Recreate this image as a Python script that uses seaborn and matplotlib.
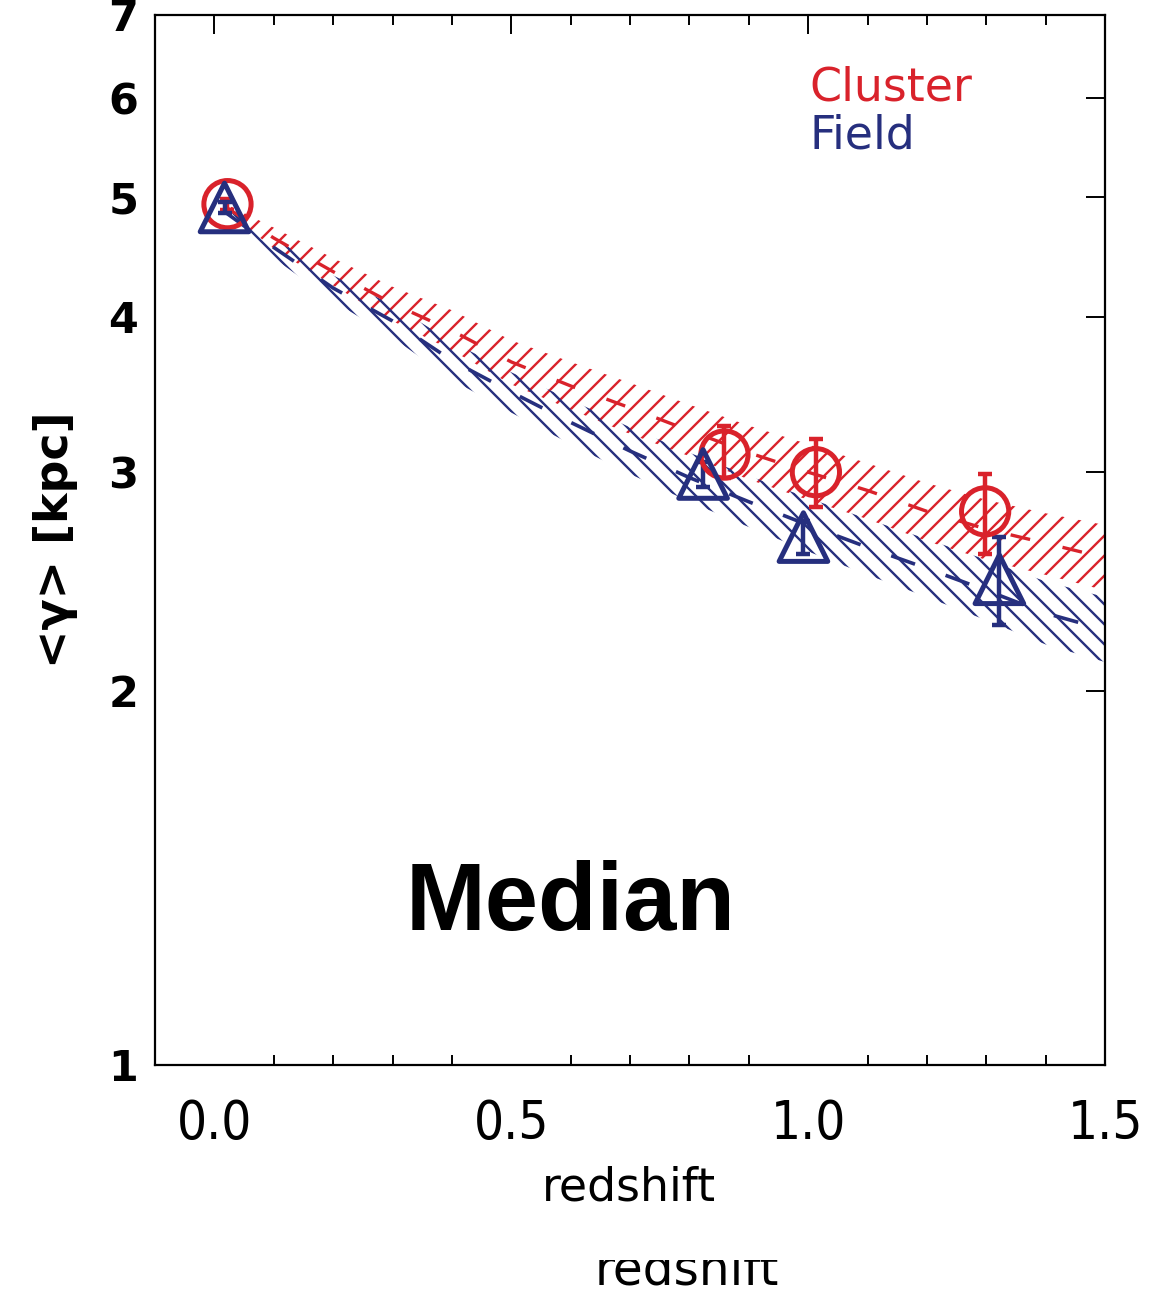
import numpy as np
import pandas as pd
import matplotlib
matplotlib.use("Agg")
import matplotlib.pyplot as plt
import seaborn as sns
from matplotlib.ticker import MultipleLocator, NullLocator, FixedLocator
from matplotlib.patches import Rectangle

# ---------------- data ----------------
model_z = [0.02, 0.1, 0.2, 0.3, 0.4, 0.5, 0.6, 0.7, 0.8, 0.9, 1.0, 1.1, 1.2, 1.3, 1.4, 1.5]
cluster_mid = [4.90, 4.63, 4.35, 4.10, 3.90, 3.68, 3.52, 3.38, 3.24, 3.11, 3.00, 2.90, 2.79, 2.70, 2.63, 2.56]
cluster_hi = [4.93, 4.72, 4.46, 4.23, 4.05, 3.83, 3.68, 3.54, 3.40, 3.27, 3.16, 3.05, 2.94, 2.85, 2.78, 2.72]
cluster_lo = [4.87, 4.54, 4.24, 3.97, 3.76, 3.53, 3.37, 3.22, 3.09, 2.96, 2.85, 2.75, 2.64, 2.55, 2.48, 2.41]
field_mid = [4.85, 4.55, 4.22, 3.97, 3.69, 3.48, 3.29, 3.12, 2.97, 2.84, 2.72, 2.61, 2.51, 2.41, 2.31, 2.24]
field_hi = [4.88, 4.64, 4.32, 4.09, 3.82, 3.61, 3.43, 3.26, 3.11, 2.98, 2.86, 2.75, 2.65, 2.55, 2.45, 2.38]
field_lo = [4.82, 4.46, 4.12, 3.85, 3.56, 3.35, 3.16, 2.99, 2.84, 2.71, 2.59, 2.48, 2.38, 2.28, 2.18, 2.11]

cl_z = [0.022, 0.859, 1.013, 1.298]
cl_val = [4.93, 3.10, 3.00, 2.79]
cl_lo = [4.88, 2.97, 2.81, 2.58]
cl_hi = [4.98, 3.27, 3.19, 2.99]

fd_z = [0.017, 0.823, 0.992, 1.322]
fd_val = [4.90, 2.99, 2.66, 2.46]
fd_lo = [4.85, 2.92, 2.58, 2.26]
fd_hi = [4.95, 3.06, 2.74, 2.66]

x_ticks = [0.0, 0.5, 1.0, 1.5]
x_ticklabels = ["0.0", "0.5", "1.0", "1.5"]
y_ticks = [1, 2, 3, 4, 5, 6, 7]
y_ticklabels = ["1", "2", "3", "4", "5", "6", "7"]

RED = "#d9222b"
BLUE = "#262f7e"

# rendering resolution (sets the hatch spacing); K converts
# sizes designed for 100 dpi into points at this dpi
DPI = 120
K = 100.0 / DPI

# ---------------- styling ----------------
sns.set_theme(style="white")
plt.rcParams["font.family"] = ["DejaVu Sans"]
plt.rcParams["hatch.linewidth"] = 1.7 * K
plt.rcParams["text.color"] = "black"
plt.rcParams["axes.labelcolor"] = "black"
plt.rcParams["xtick.color"] = "black"
plt.rcParams["ytick.color"] = "black"
plt.rcParams["xtick.labelcolor"] = "black"
plt.rcParams["ytick.labelcolor"] = "black"

fig = plt.figure(figsize=(1151 / DPI, 1292 / DPI), dpi=DPI)
ax = fig.add_axes([0.1347, 0.1757, 0.8254, 0.8127])
ax.set_yscale("log")
ax.set_xlim(-0.1, 1.5)
ax.set_ylim(1, 7)

# hatched model bands
ax.fill_between(model_z, cluster_lo, cluster_hi, facecolor="none", edgecolor=RED,
                hatch="//", linewidth=0, zorder=2)
ax.fill_between(model_z, field_lo, field_hi, facecolor="none", edgecolor=BLUE,
                hatch="\\\\", linewidth=0, zorder=2)

# dashed centre lines
sns.lineplot(x=model_z, y=cluster_mid, ax=ax, color=RED, linewidth=2.4 * K,
             linestyle=(0, (6.0, 10.0)), zorder=3)
sns.lineplot(x=model_z, y=field_mid, ax=ax, color=BLUE, linewidth=2.6 * K,
             linestyle=(0, (7.0, 9.0)), zorder=3)

# error bars
cl_err = [np.array(cl_val) - np.array(cl_lo), np.array(cl_hi) - np.array(cl_val)]
fd_err = [np.array(fd_val) - np.array(fd_lo), np.array(fd_hi) - np.array(fd_val)]
ax.errorbar(cl_z, cl_val, yerr=cl_err, fmt="none", ecolor=RED, elinewidth=3.2 * K,
            capsize=5 * K, capthick=3.2 * K, zorder=4)
ax.errorbar(fd_z, fd_val, yerr=fd_err, fmt="none", ecolor=BLUE, elinewidth=3.2 * K,
            capsize=5 * K, capthick=3.2 * K, zorder=4)

# markers
sns.scatterplot(x=cl_z, y=cl_val, ax=ax, marker="o", s=(34 * K) ** 2, facecolor="none",
                edgecolor=RED, linewidth=3.6 * K, zorder=5)
sns.scatterplot(x=fd_z, y=fd_val, ax=ax, marker="^", s=(35 * K) ** 2, facecolor="none",
                edgecolor=BLUE, linewidth=3.6 * K, zorder=5)

# ticks
ax.yaxis.set_major_locator(FixedLocator(y_ticks))
ax.yaxis.set_minor_locator(NullLocator())
ax.set_yticklabels(y_ticklabels, fontsize=31 * K, fontweight="bold", color="black")
ax.set_xticks(x_ticks)
ax.set_xticklabels(x_ticklabels, fontsize=38 * K, fontstretch="condensed", color="black")
ax.xaxis.set_minor_locator(MultipleLocator(0.1))
ax.tick_params(axis="both", which="major", direction="in", length=14 * K, width=1.4 * K,
               top=True, right=True, color="black")
ax.tick_params(axis="x", which="minor", direction="in", length=7 * K, width=1.4 * K,
               top=True, bottom=True, color="black")
ax.tick_params(axis="y", which="major", pad=12 * K)
ax.tick_params(axis="x", which="major", pad=24 * K)
for sp in ax.spines.values():
    sp.set_color("black")
    sp.set_linewidth(1.6 * K)
    sp.set_visible(True)
ax.grid(False)

ax.set_xlabel("")
ax.set_ylabel("<γ> [kpc]", fontsize=33 * K, fontweight="bold", labelpad=22 * K,
              color="black")

# legend-like labels
ax.text(0.689, 0.919, "Cluster", transform=ax.transAxes, color=RED, fontsize=33 * K,
        ha="left", va="baseline")
ax.text(0.689, 0.873, "Field", transform=ax.transAxes, color=BLUE, fontsize=33 * K,
        ha="left", va="baseline")

# panel annotation
ax.text(0.437, 0.152, "Median", transform=ax.transAxes, fontsize=69 * K,
        fontweight="bold", family=["Liberation Sans", "DejaVu Sans"],
        ha="center", va="center", color="black")

# x labels (two, second one partially hidden in the reference)
fig.text(0.5465, 0.0712, "redshift", fontsize=33 * K, ha="center", va="baseline",
         color="black")
fig.text(0.597, 0.006, "redshift", fontsize=35 * K, ha="center", va="baseline",
         color="black", zorder=1)
fig.patches.append(Rectangle((0.40, 0.0250), 0.40, 0.030, transform=fig.transFigure,
                             facecolor="white", edgecolor="none", zorder=5))

fig.savefig("out.png", dpi=DPI)
